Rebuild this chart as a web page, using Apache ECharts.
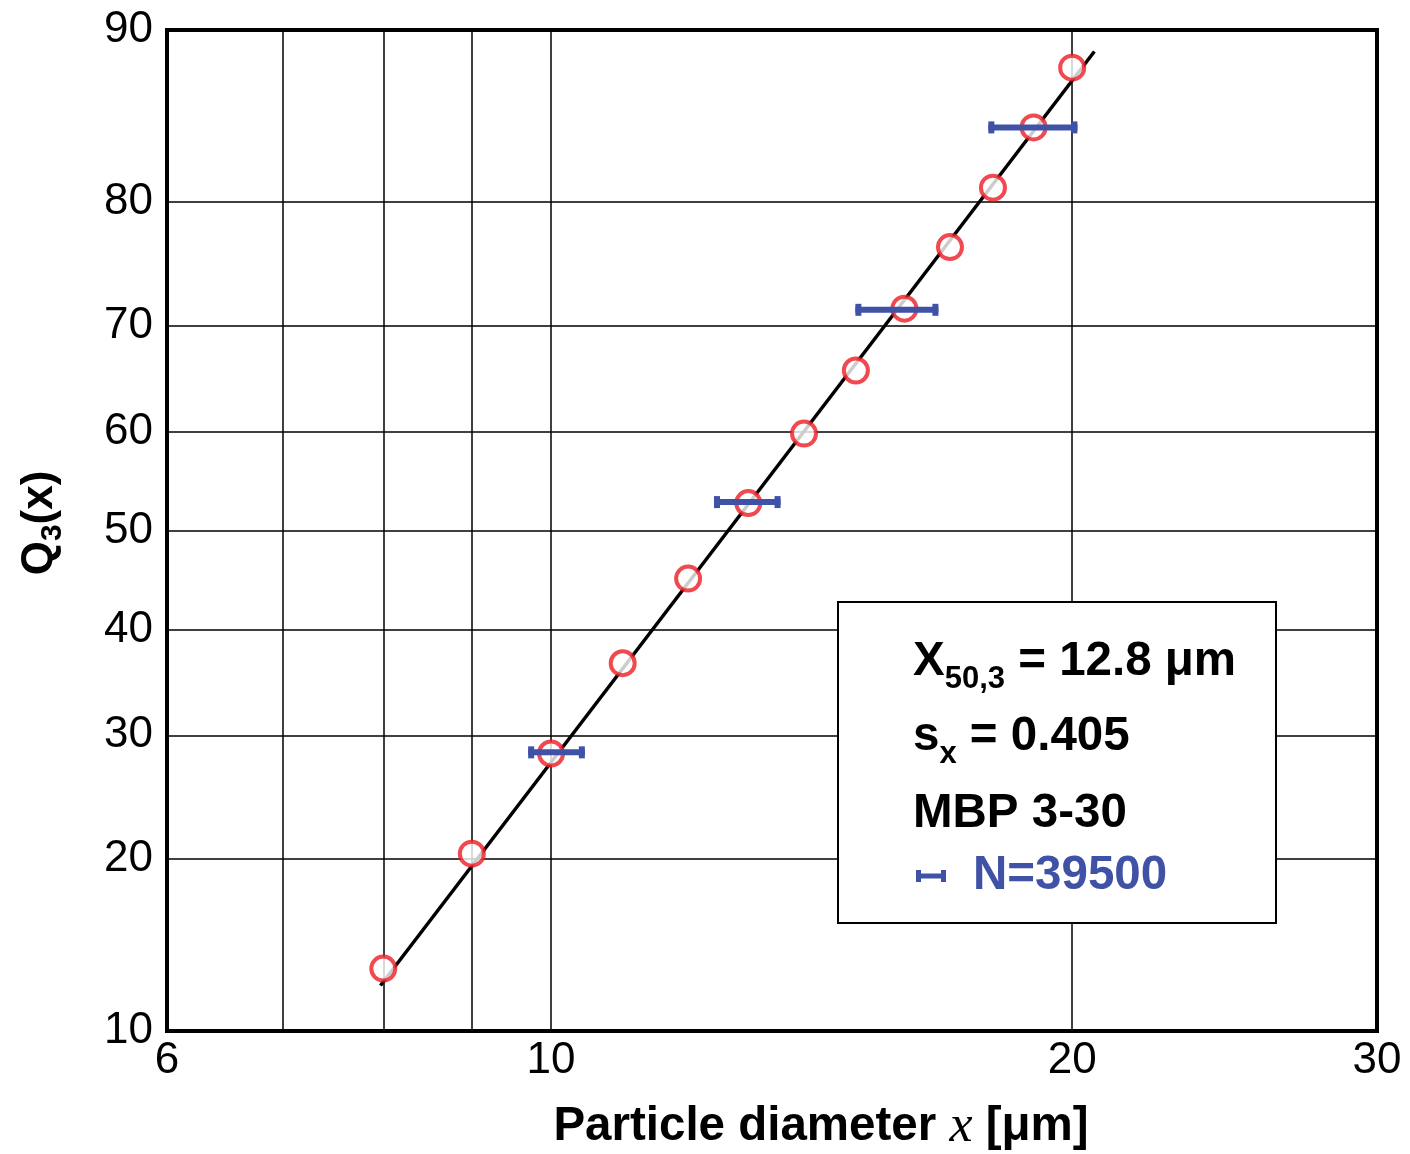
<!DOCTYPE html>
<html>
<head>
<meta charset="utf-8">
<script src="https://cdn.jsdelivr.net/npm/echarts@6/dist/echarts.min.js"></script>
<style>
html,body{margin:0;padding:0;background:#fff;}
#chart{width:1410px;height:1154px;}
</style>
</head>
<body>
<div id="chart"></div>
<script>
// ---- data ----
var diameters = [8, 9, 10, 11, 12, 13, 14, 15, 16, 17, 18, 19, 20];
var q3Values = [13.1, 20.4, 28.4, 36.7, 45.1, 52.8, 59.8, 65.9, 71.5, 76.6, 81.0, 84.9, 88.2];
var errQ3 = [28.5, 52.9, 71.4, 84.9];
var errLow = [9.70, 12.42, 14.99, 17.89];
var errHigh = [10.46, 13.57, 16.74, 20.14];
var fitX = [7.97, 20.6];
var fitQ3 = [12.2, 89.0];
var xLabelTicks = [6, 10, 20, 30];
var xGridTicks = [6, 7, 8, 9, 10, 20, 30];
var yTicks = [10, 20, 30, 40, 50, 60, 70, 80, 90];

// inverse normal CDF (Acklam)
function probit(pct) {
  var p = pct / 100;
  var a = [-3.969683028665376e+01, 2.209460984245205e+02, -2.759285104469687e+02, 1.383577518672690e+02, -3.066479806614716e+01, 2.506628277459239e+00];
  var b = [-5.447609879822406e+01, 1.615858368580409e+02, -1.556989798598866e+02, 6.680131188771972e+01, -1.328068155288572e+01];
  var c = [-7.784894002430293e-03, -3.223964580411365e-01, -2.400758277161838e+00, -2.549732539343734e+00, 4.374664141464968e+00, 2.938163982698783e+00];
  var d = [7.784695709041462e-03, 3.224671290700398e-01, 2.445134137142996e+00, 3.754408661907416e+00];
  var pl = 0.02425, q, r;
  if (p < pl) {
    q = Math.sqrt(-2 * Math.log(p));
    return (((((c[0]*q+c[1])*q+c[2])*q+c[3])*q+c[4])*q+c[5]) / ((((d[0]*q+d[1])*q+d[2])*q+d[3])*q+1);
  } else if (p <= 1 - pl) {
    q = p - 0.5; r = q * q;
    return (((((a[0]*r+a[1])*r+a[2])*r+a[3])*r+a[4])*r+a[5])*q / (((((b[0]*r+b[1])*r+b[2])*r+b[3])*r+b[4])*r+1);
  } else {
    q = Math.sqrt(-2 * Math.log(1 - p));
    return -(((((c[0]*q+c[1])*q+c[2])*q+c[3])*q+c[4])*q+c[5]) / ((((d[0]*q+d[1])*q+d[2])*q+d[3])*q+1);
  }
}
var lg = Math.log10;

function nearest(arr, v, f) {
  var best = arr[0], bd = Infinity;
  arr.forEach(function (t) { var dd = Math.abs(f(t) - v); if (dd < bd) { bd = dd; best = t; } });
  return best;
}

var pointData = diameters.map(function (d, i) { return [lg(d), probit(q3Values[i])]; });
var fitData = fitX.map(function (d, i) { return [lg(d), probit(fitQ3[i])]; });
var errData = errQ3.map(function (q, i) { return [lg(errLow[i]), lg(errHigh[i]), probit(q)]; });

var BLUE = '#4052a6';
var RED = '#ec1c24';
var FONT = '"Liberation Sans", Arial, sans-serif';

var chart = echarts.init(document.getElementById('chart'), null, {renderer: 'canvas'});
var option = {
  backgroundColor: '#ffffff',
  animation: false,
  grid: {
    left: 167, top: 30, right: 33, bottom: 123,
    show: true, borderColor: '#000', borderWidth: 4, backgroundColor: 'transparent',
    outerBoundsMode: 'none', containLabel: false
  },
  xAxis: {
    type: 'value',
    min: lg(6), max: lg(30),
    axisLine: {show: false},
    axisTick: {show: false, customValues: xGridTicks.map(lg)},
    splitLine: {show: true, lineStyle: {color: '#000', width: 1.5}},
    axisLabel: {
      customValues: xLabelTicks.map(lg),
      margin: 8,
      fontSize: 44, color: '#000', fontFamily: FONT,
      formatter: function (v) { return String(nearest(xLabelTicks, v, lg)); }
    }
  },
  yAxis: {
    type: 'value',
    min: probit(10), max: probit(90),
    axisLine: {show: false},
    axisTick: {show: false, customValues: yTicks.map(probit)},
    splitLine: {show: true, lineStyle: {color: '#000', width: 1.5}},
    axisLabel: {
      customValues: yTicks.map(probit),
      margin: 14,
      fontSize: 44, color: '#000', fontFamily: FONT,
      formatter: function (v) { return String(nearest(yTicks, v, probit)); }
    }
  },
  series: [
    {
      type: 'line', data: fitData, symbol: 'none', z: 2,
      lineStyle: {color: '#000', width: 3.5}
    },
    {
      type: 'scatter', data: pointData, z: 3,
      symbol: 'circle', symbolSize: 24,
      itemStyle: {color: '#fff', borderColor: RED, borderWidth: 4}
    },
    {
      type: 'custom', z: 4, data: errData,
      renderItem: function (params, api) {
        var p1 = api.coord([api.value(0), api.value(2)]);
        var p2 = api.coord([api.value(1), api.value(2)]);
        var h = 6, w = 6;
        return {
          type: 'group',
          children: [
            {type: 'line', shape: {x1: p1[0], y1: p1[1], x2: p2[0], y2: p2[1]}, style: {stroke: BLUE, lineWidth: 6}},
            {type: 'rect', shape: {x: p1[0], y: p1[1] - h, width: w, height: 2 * h}, style: {fill: BLUE}},
            {type: 'rect', shape: {x: p2[0] - w, y: p2[1] - h, width: w, height: 2 * h}, style: {fill: BLUE}}
          ]
        };
      }
    }
  ],
  graphic: [
    {
      type: 'text', x: 40, y: 523, rotation: Math.PI / 2,
      style: {
        text: '{a|Q}{s|3}{a|(x)}',
        align: 'center', verticalAlign: 'middle',
        rich: {
          a: {fontSize: 44, fontWeight: 'bold', fontFamily: FONT, fill: '#000'},
          s: {fontSize: 30, fontWeight: 'bold', fontFamily: FONT, fill: '#000', padding: [26, 0, 0, 0]}
        }
      }
    },
    {
      type: 'text', x: 821, y: 1127,
      style: {
        text: '{a|Particle diameter }{i|x}{a| [μm]}',
        align: 'center', verticalAlign: 'middle',
        rich: {
          a: {fontSize: 47.5, fontWeight: 'bold', fontFamily: FONT, fill: '#000'},
          i: {fontSize: 52, fontStyle: 'italic', fontFamily: '"Liberation Serif", "Times New Roman", serif', fill: '#000'}
        }
      }
    },
    {
      type: 'rect', z: 10,
      shape: {x: 838, y: 602, width: 438, height: 321},
      style: {fill: '#fff', stroke: '#000', lineWidth: 2}
    },
    {
      type: 'text', z: 11, x: 913, y: 662,
      style: {
        text: '{a|X}{s|50,3}{a| = 12.8 μm}',
        align: 'left', verticalAlign: 'middle',
        rich: {
          a: {fontSize: 47.5, fontWeight: 'bold', fontFamily: FONT, fill: '#000'},
          s: {fontSize: 31, fontWeight: 'bold', fontFamily: FONT, fill: '#000', padding: [34, 0, 0, 0]}
        }
      }
    },
    {
      type: 'text', z: 11, x: 913, y: 737,
      style: {
        text: '{a|s}{s|x}{a| = 0.405}',
        align: 'left', verticalAlign: 'middle',
        rich: {
          a: {fontSize: 47.5, fontWeight: 'bold', fontFamily: FONT, fill: '#000'},
          s: {fontSize: 31, fontWeight: 'bold', fontFamily: FONT, fill: '#000', padding: [34, 0, 0, 0]}
        }
      }
    },
    {
      type: 'text', z: 11, x: 913, y: 814,
      style: {
        text: 'MBP 3-30',
        align: 'left', verticalAlign: 'middle',
        fontSize: 47.5, fontWeight: 'bold', fontFamily: FONT, fill: '#000'
      }
    },
    {
      type: 'line', z: 11,
      shape: {x1: 917, y1: 876, x2: 945, y2: 876},
      style: {stroke: BLUE, lineWidth: 5}
    },
    {
      type: 'rect', z: 11,
      shape: {x: 916, y: 870, width: 5, height: 12},
      style: {fill: BLUE}
    },
    {
      type: 'rect', z: 11,
      shape: {x: 941, y: 870, width: 5, height: 12},
      style: {fill: BLUE}
    },
    {
      type: 'text', z: 11, x: 973, y: 876,
      style: {
        text: 'N=39500',
        align: 'left', verticalAlign: 'middle',
        fontSize: 47.5, fontWeight: 'bold', fontFamily: FONT, fill: BLUE
      }
    }
  ]
};
chart.setOption(option);
</script>
</body>
</html>
